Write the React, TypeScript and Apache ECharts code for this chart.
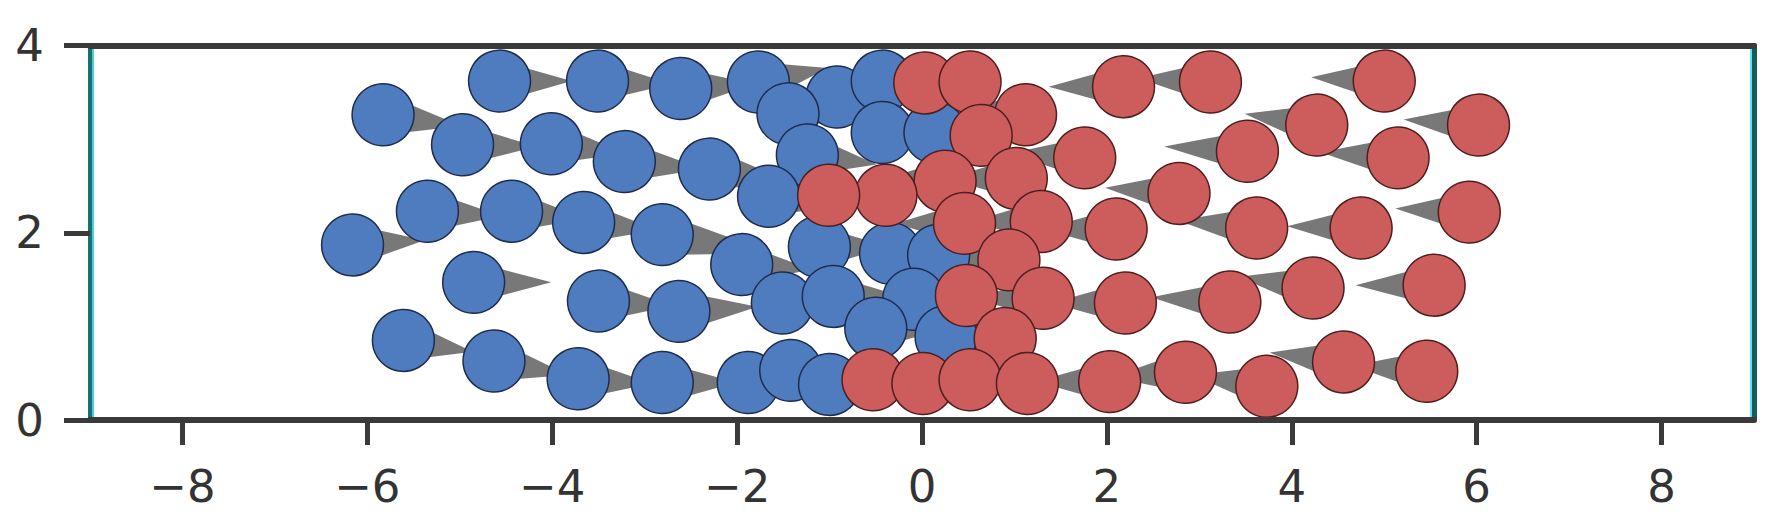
import React, { useEffect, useRef } from "react";
import * as echarts from "echarts";

// ---- data ----
const blueX = [-4.57, -3.51, -2.61, -1.77, -0.92, -0.43, -5.83, -4.97, -4.01, -3.22, -2.30, -1.45, -1.24, -0.43, 0.14, -1.66, -5.35, -4.44, -3.66, -2.81, -6.16, -1.95, -1.11, -0.34, 0.18, -4.85, -3.50, -2.63, -1.51, -0.96, -0.09, -0.50, 0.26, -5.61, -4.63, -3.72, -2.81, -1.88, -1.42, -1.00];
const blueY = [3.62, 3.62, 3.54, 3.61, 3.45, 3.62, 3.26, 2.94, 2.95, 2.76, 2.68, 3.27, 2.83, 3.07, 3.07, 2.39, 2.23, 2.23, 2.11, 1.98, 1.87, 1.66, 1.85, 1.78, 1.76, 1.47, 1.27, 1.16, 1.25, 1.32, 1.29, 0.98, 0.89, 0.85, 0.63, 0.44, 0.40, 0.40, 0.53, 0.38];
const blueVX = [0.78, 0.8, 0.8, 0.75, 0.75, 0.75, 0.85, 0.8, 0.8, 0.85, 0.9, 0.75, 0.75, 0.75, 0.75, 0.75, 0.8, 0.8, 0.8, 1.2, 0.78, 0.75, 0.75, 0.75, 0.75, 0.84, 0.8, 0.85, 0.75, 0.75, 0.75, 0.75, 0.75, 0.75, 0.8, 0.8, 0.8, 0.75, 0.75, 0.75];
const blueVY = [0.0, -0.03, 0.05, 0.15, 0.05, 0.0, -0.12, -0.02, -0.1, -0.08, -0.15, 0.05, -0.1, 0, 0, -0.1, -0.05, -0.08, -0.08, -0.2, 0.05, -0.05, 0, 0, 0, 0, -0.05, 0.05, 0, 0, 0, 0, 0, -0.12, -0.15, -0.05, 0, 0.03, 0, 0];

const redX = [0.03, 0.52, 1.12, 0.64, 2.18, 3.12, 5.00, 1.76, 1.02, 0.25, -0.39, -1.01, 4.27, 6.02, 3.52, 5.15, 2.78, 0.46, 1.29, 2.10, 3.62, 4.75, 5.92, 0.94, 0.48, 1.31, 2.20, 3.33, 4.23, 5.54, 0.90, -0.53, 0.01, 0.52, 1.14, 2.03, 2.85, 3.73, 4.56, 5.46];
const redY = [3.60, 3.61, 3.26, 3.04, 3.56, 3.61, 3.62, 2.80, 2.58, 2.55, 2.40, 2.40, 3.15, 3.15, 2.87, 2.80, 2.42, 2.10, 2.12, 2.04, 2.05, 2.05, 2.22, 1.71, 1.33, 1.30, 1.25, 1.26, 1.41, 1.44, 0.87, 0.43, 0.39, 0.43, 0.39, 0.41, 0.51, 0.36, 0.62, 0.52];
const redVX = [-0.75, -0.75, -0.75, -0.75, -0.81, -0.78, -0.79, -0.8, -0.75, -0.75, -0.75, -0.75, -0.78, -0.81, -0.9, -0.84, -0.8, -0.75, -0.75, -0.8, -0.85, -0.8, -0.8, -0.75, -0.75, -0.75, -0.8, -0.85, -0.8, -0.85, -0.75, -0.75, -0.75, -0.75, -0.75, -0.8, -0.8, -0.8, -0.8, -0.8];
const redVY = [0, 0, 0.05, 0, 0, 0.04, 0.04, 0.05, 0, 0, 0, 0, 0.12, 0.06, 0.05, 0.06, 0.06, 0, 0, 0, 0.08, 0.02, 0.04, 0, 0, 0, 0, 0.05, 0.12, 0, 0, 0, 0, 0, 0, 0, -0.05, 0.12, 0.1, 0.06];

const xTicks = [-8, -6, -4, -2, 0, 2, 4, 6, 8];
const yTicks = [0, 2, 4];

const RADIUS = 0.335;
const HALF_BASE = 0.22;

const fmt = (v: number) => (v < 0 ? "\u2212" + Math.abs(v) : String(v));

export default function App() {
  const ref = useRef<HTMLDivElement>(null);
  useEffect(() => {
    if (!ref.current) return;
    const chart = echarts.init(ref.current, null, { renderer: "svg" });

    const wedgeData = [
      ...blueX.map((x, i) => [x, blueY[i], blueVX[i], blueVY[i]]),
      ...redX.map((x, i) => [x, redY[i], redVX[i], redVY[i]]),
    ];
    const blueData = blueX.map((x, i) => [x, blueY[i]]);
    const redData = redX.map((x, i) => [x, redY[i]]);

    const wedgeRender = (params: any, api: any) => {
      const x = api.value(0), y = api.value(1), vx = api.value(2), vy = api.value(3);
      const len = Math.hypot(vx, vy) || 1;
      const px = -vy / len, py = vx / len;
      const pts = [
        [x + px * HALF_BASE, y + py * HALF_BASE],
        [x - px * HALF_BASE, y - py * HALF_BASE],
        [x + vx, y + vy],
      ].map((p) => api.coord(p));
      return { type: "polygon", shape: { points: pts }, style: { fill: "#787878" } };
    };
    const circleRender = (fill: string, stroke: string) => (params: any, api: any) => {
      const c = api.coord([api.value(0), api.value(1)]);
      const r = api.size([RADIUS, 0])[0];
      return { type: "circle", shape: { cx: c[0], cy: c[1], r }, style: { fill, stroke, lineWidth: 1.5 } };
    };

    const labelStyle = { fontFamily: "DejaVu Sans", fontSize: 45, color: "#333333" };
    const hiddenY = (pos: string, offset: number, color: string, width: number, z: number) => ({
      type: "value", min: 0, max: 4, interval: 2, position: pos, offset, z,
      splitLine: { show: false },
      axisLine: { show: true, onZero: false, lineStyle: { color, width } },
      axisTick: { show: false }, axisLabel: { show: false },
    });

    chart.setOption({
      animation: false,
      backgroundColor: "#ffffff",
      grid: { left: 90, right: 22, top: 45.5, bottom: 106 },
      xAxis: [
        {
          type: "value", min: -9, max: 9, position: "bottom", z: 5,
          splitLine: { show: false },
          axisLine: { show: true, onZero: false, lineStyle: { color: "#3a3a3a", width: 6 } },
          axisTick: { show: true, customValues: xTicks, length: 25, lineStyle: { color: "#3a3a3a", width: 5 } },
          axisLabel: { show: true, customValues: xTicks, margin: 44, formatter: fmt, ...labelStyle },
        },
        {
          type: "value", min: -9, max: 9, position: "top", z: 5,
          splitLine: { show: false },
          axisLine: { show: true, onZero: false, lineStyle: { color: "#3a3a3a", width: 6 } },
          axisTick: { show: false }, axisLabel: { show: false },
        },
      ],
      yAxis: [
        {
          type: "value", min: 0, max: 4, interval: 2, position: "left", z: 3,
          splitLine: { show: false },
          axisLine: { show: true, onZero: false, lineStyle: { color: "#137272", width: 5 } },
          axisTick: { show: true, customValues: yTicks, length: 26, lineStyle: { color: "#3a3a3a", width: 5 } },
          axisLabel: { show: true, customValues: yTicks, margin: 46, formatter: fmt, ...labelStyle },
        },
        hiddenY("right", 0, "#1a5a5a", 5, 3),
        hiddenY("left", -3, "#4fd0d0", 2, 4),
        hiddenY("right", -3, "#55e8f0", 2, 4),
      ],
      series: [
        {
          type: "custom", name: "wedges", z: 1, xAxisIndex: 0, yAxisIndex: 0,
          dimensions: ["x", "y", "vx", "vy"], encode: { x: 0, y: 1 },
          data: wedgeData, renderItem: wedgeRender, silent: true,
        },
        {
          type: "custom", name: "blue", z: 2, xAxisIndex: 0, yAxisIndex: 0,
          encode: { x: 0, y: 1 }, data: blueData,
          renderItem: circleRender("#4f7bbf", "#1e2d4d"), silent: true,
        },
        {
          type: "custom", name: "red", z: 3, xAxisIndex: 0, yAxisIndex: 0,
          encode: { x: 0, y: 1 }, data: redData,
          renderItem: circleRender("#cd5c5c", "#4d1f1f"), silent: true,
        },
      ],
    });
    return () => chart.dispose();
  }, []);
  return (
    <div
      ref={ref}
      style={{ position: "absolute", left: 0, top: 0, width: 1776, height: 526, background: "#fff" }}
    />
  );
}
